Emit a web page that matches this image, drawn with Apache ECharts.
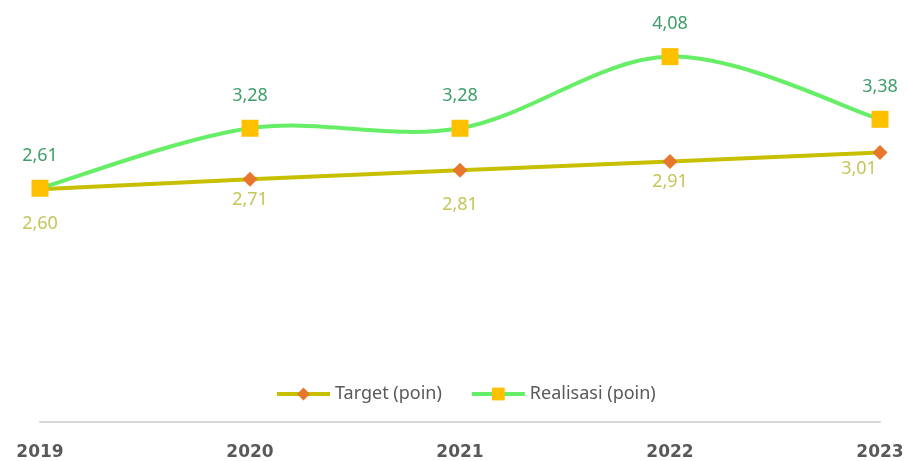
<!DOCTYPE html>
<html>
<head>
<meta charset="utf-8">
<script src="https://cdn.jsdelivr.net/npm/echarts@6/dist/echarts.min.js"></script>
<style>html,body{margin:0;padding:0;background:#fff}#c{width:909px;height:461px}</style>
</head>
<body>
<div id="c"></div>
<script>
var years = ['2019', '2020', '2021', '2022', '2023'];
var targetValues = [2.60, 2.71, 2.81, 2.91, 3.01];
var realisasiValues = [2.61, 3.28, 3.28, 4.08, 3.38];
var seriesNames = ['Target (poin)', 'Realisasi (poin)'];

function fmt(v) { return v.toFixed(2).replace('.', ','); }

// per-point label nudges for the target series (layout only)
var targetLabelNudge = [[0, 14], [0, 0], [0, 14], [0, 0], [-21, -4]];

var GREEN = '#66EE66';
var OLIVE = '#C6C000';

// Excel-like smoothed curve (Catmull-Rom -> cubic Bezier), one segment per data item
function renderSmoothSegment(params, api) {
  var i = params.dataIndexInside;
  var n = params.dataInsideLength;
  if (i === 0) return null;
  function pt(k) {
    k = Math.max(0, Math.min(n - 1, k));
    return api.coord([k, api.value(1, k)]);
  }
  var p0 = pt(i - 2), p1 = pt(i - 1), p2 = pt(i), p3 = pt(i + 1);
  var t = 1 / 6;
  return {
    type: 'bezierCurve',
    shape: {
      x1: p1[0], y1: p1[1],
      cpx1: p1[0] + (p2[0] - p0[0]) * t, cpy1: p1[1] + (p2[1] - p0[1]) * t,
      cpx2: p2[0] - (p3[0] - p1[0]) * t, cpy2: p2[1] - (p3[1] - p1[1]) * t,
      x2: p2[0], y2: p2[1]
    },
    style: { stroke: GREEN, lineWidth: 4, fill: null, lineCap: 'round' }
  };
}

var chart = echarts.init(document.getElementById('c'));
chart.setOption({
  backgroundColor: '#ffffff',
  animation: false,
  grid: { left: 40, right: 29, top: 19, bottom: 39, containLabel: false },
  legend: {
    left: 275, top: 385, padding: 0,
    itemWidth: 53, itemHeight: 16, itemGap: 28,
    textStyle: { color: '#595959', fontSize: 18, fontFamily: 'Noto Sans' },
    data: [
      { name: seriesNames[0], lineStyle: { color: OLIVE, width: 4, opacity: 1 } },
      { name: seriesNames[1], lineStyle: { color: GREEN, width: 4, opacity: 1 } }
    ]
  },
  xAxis: {
    type: 'category', data: years, boundaryGap: false, offset: 6,
    axisLine: { lineStyle: { color: '#D9D9D9', width: 2 } },
    axisTick: { show: false },
    axisLabel: { color: '#595959', fontSize: 17, fontWeight: 'bold', fontFamily: 'DejaVu Sans', margin: 16 }
  },
  yAxis: { type: 'value', min: 0, max: 4.5, show: false, splitLine: { show: false } },
  series: [
    {
      name: seriesNames[0], type: 'line', smooth: false,
      data: targetValues.map(function (v, i) {
        return { value: v, label: { offset: targetLabelNudge[i] } };
      }),
      symbol: 'diamond', symbolSize: 15,
      itemStyle: { color: '#E8772E' },
      lineStyle: { color: OLIVE, width: 4 },
      label: { show: true, position: 'bottom', distance: 4, color: '#C5C55A', fontSize: 18, fontFamily: 'Noto Sans', formatter: function (p) { return fmt(p.value); } },
      z: 2
    },
    {
      type: 'custom',
      data: realisasiValues.map(function (v, i) { return [i, v]; }),
      encode: { x: 0, y: 1 },
      renderItem: renderSmoothSegment,
      silent: true,
      z: 3
    },
    {
      name: seriesNames[1], type: 'line',
      data: realisasiValues,
      symbol: 'rect', symbolSize: 17,
      itemStyle: { color: '#FFC000' },
      lineStyle: { color: GREEN, width: 4, opacity: 0 },
      label: { show: true, position: 'top', distance: 15, color: '#3E9E6A', fontSize: 18, fontFamily: 'Noto Sans', formatter: function (p) { return fmt(p.value); } },
      z: 4
    }
  ]
});
</script>
</body>
</html>
